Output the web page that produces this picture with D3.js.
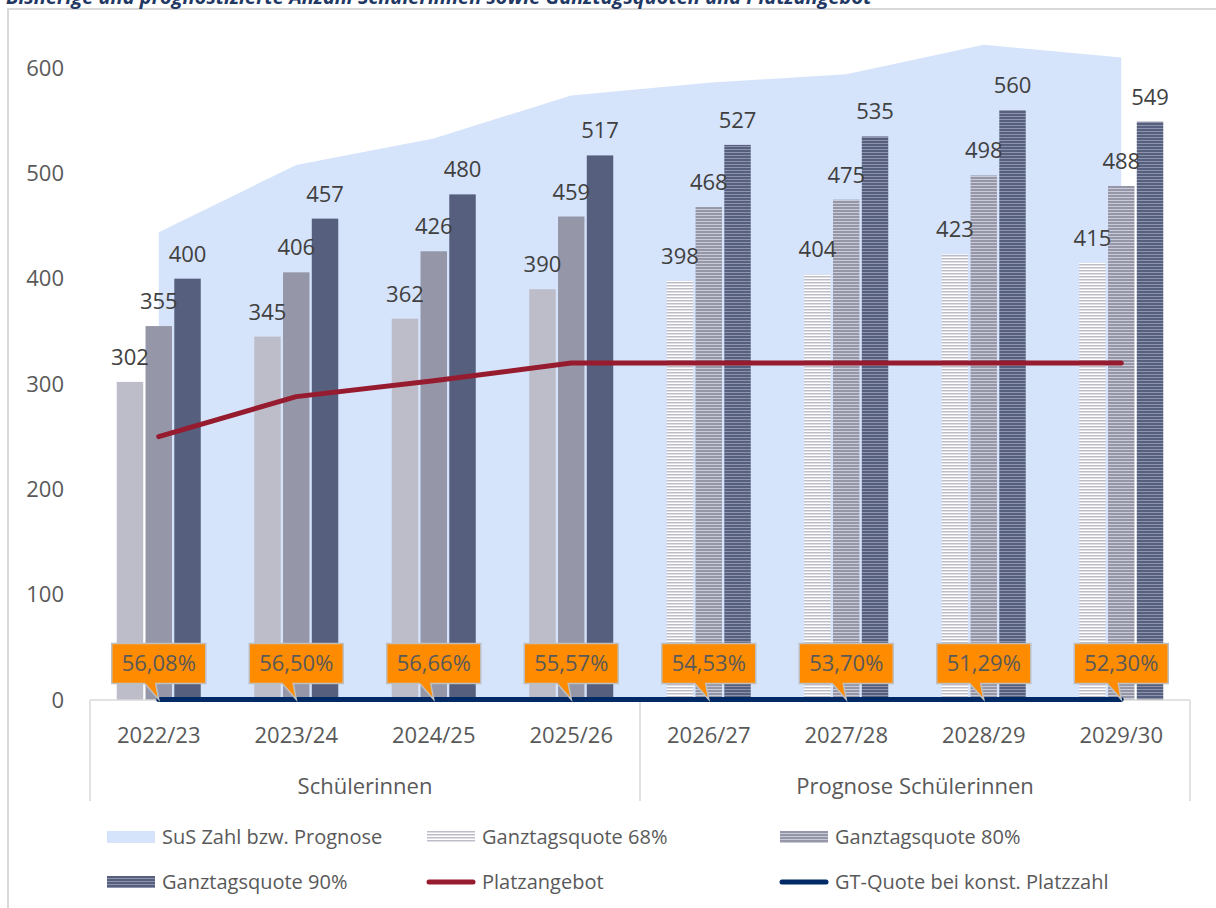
<!DOCTYPE html>
<html>
<head>
<meta charset="utf-8">
<script src="https://cdn.jsdelivr.net/npm/d3@7"></script>
<style>
  html, body { margin: 0; padding: 0; background: #fff; }
  svg { display: block; font-family: "Open Sans", "Noto Sans", sans-serif; }
</style>
</head>
<body>
<svg id="chart" width="1216" height="908"></svg>
<script>
// School years and their grouping on the two-level category axis
const years = ["2022/23", "2023/24", "2024/25", "2025/26", "2026/27", "2027/28", "2028/29", "2029/30"];
const groups = [
  { label: "Schülerinnen", from: 0, to: 3 },
  { label: "Prognose Schülerinnen", from: 4, to: 7 }
];
const forecastFrom = 4;

// Pupil numbers (actual, then forecast)
const susTotal = [444, 508, 533, 574, 586, 594, 622, 610];
// Full-day demand at 68 %, 80 % and 90 % participation
const quote68 = [302, 345, 362, 390, 398, 404, 423, 415];
const quote80 = [355, 406, 426, 459, 468, 475, 498, 488];
const quote90 = [400, 457, 480, 517, 527, 535, 560, 549];
// Available places
const platzangebot = [250, 288, 303, 320, 320, 320, 320, 320];
// Full-day rate with constant number of places
const gtQuote = [0.5608, 0.5650, 0.5666, 0.5557, 0.5453, 0.5370, 0.5129, 0.5230];

const yTicks = [0, 100, 200, 300, 400, 500, 600];

const svg = d3.select("#chart");
const fmtPct = v => (v * 100).toFixed(2).replace(".", ",") + "%";

// Frame and heading
svg.append("rect")
  .attr("x", 8).attr("y", 9).attr("width", 1230).attr("height", 920)
  .attr("fill", "none").attr("stroke", "#d9d9d9").attr("stroke-width", 2);
svg.append("text")
  .attr("x", 6).attr("y", 4)
  .attr("font-size", 20).attr("font-weight", "bold").attr("font-style", "italic")
  .attr("fill", "#1f3864")
  .text("Bisherige und prognostizierte Anzahl Schülerinnen sowie Ganztagsquoten und Platzangebot");

// Scales
const x0 = d3.scaleBand().domain(years).range([90, 1190]).paddingInner(0).paddingOuter(0);
const seriesKeys = ["q68", "q80", "q90"];
const groupW = 84;
const x1 = d3.scaleBand().domain(seriesKeys).range([0, groupW]).paddingInner(0.08);
const y = d3.scaleLinear().domain([0, 600]).range([700, 68]);
const cx = d => x0(d) + x0.bandwidth() / 2;

// Stripe patterns for forecast bars
const defs = svg.append("defs");
function stripe(id, base, line, h, lh) {
  const p = defs.append("pattern").attr("id", id)
    .attr("patternUnits", "userSpaceOnUse").attr("width", 8).attr("height", h);
  p.append("rect").attr("width", 8).attr("height", h).attr("fill", base);
  p.append("rect").attr("y", 0).attr("width", 8).attr("height", lh).attr("fill", line);
}
stripe("st68", "#ffffff", "#bdbdc9", 3, 1.5);
stripe("st80", "#c9cad5", "#9597a8", 3, 2);
stripe("st90", "#8d93ab", "#565f7d", 3, 2);

const seriesDefs = [
  { key: "q68", values: quote68, solid: "#bdbdc9", pattern: "url(#st68)" },
  { key: "q80", values: quote80, solid: "#9597a8", pattern: "url(#st80)" },
  { key: "q90", values: quote90, solid: "#565f7d", pattern: "url(#st90)" }
];

// Area: pupil numbers
const area = d3.area()
  .x((d, i) => cx(years[i]))
  .y0(y(0)).y1(d => y(d));
svg.append("path").datum(susTotal)
  .attr("d", area).attr("fill", "#d5e3fb");

// Bars
const barOffset = (x0.bandwidth() - groupW) / 2;
seriesDefs.forEach(s => {
  svg.append("g").selectAll("rect")
    .data(s.values)
    .join("rect")
    .attr("x", (d, i) => x0(years[i]) + barOffset + x1(s.key))
    .attr("y", d => y(d))
    .attr("width", x1.bandwidth())
    .attr("height", d => y(0) - y(d))
    .attr("fill", (d, i) => i >= forecastFrom ? s.pattern : s.solid);
});

// Bar value labels
seriesDefs.forEach(s => {
  svg.append("g").selectAll("text")
    .data(s.values)
    .join("text")
    .attr("x", (d, i) => x0(years[i]) + barOffset + x1(s.key) + x1.bandwidth() / 2)
    .attr("y", d => y(d) - 17)
    .attr("text-anchor", "middle")
    .attr("font-size", 22)
    .attr("fill", "#404040")
    .text(d => d);
});

// Axis lines
const axisColor = "#d9d9d9";
svg.append("line").attr("x1", 90).attr("x2", 1190).attr("y1", y(0)).attr("y2", y(0))
  .attr("stroke", axisColor).attr("stroke-width", 1.5);
[90, x0(years[forecastFrom]), 1190].forEach(xv => {
  svg.append("line").attr("x1", xv).attr("x2", xv).attr("y1", y(0)).attr("y2", 801)
    .attr("stroke", axisColor).attr("stroke-width", 1.5);
});

// Y axis labels
svg.append("g").selectAll("text").data(yTicks).join("text")
  .attr("x", 64).attr("y", d => y(d))
  .attr("dy", "0.35em").attr("text-anchor", "end")
  .attr("font-size", 22).attr("fill", "#595959")
  .text(d => d);

// Category labels
svg.append("g").selectAll("text").data(years).join("text")
  .attr("x", d => cx(d)).attr("y", 735)
  .attr("dy", "0.35em").attr("text-anchor", "middle")
  .attr("font-size", 22).attr("fill", "#595959")
  .text(d => d);

// Group labels
svg.append("g").selectAll("text").data(groups).join("text")
  .attr("x", g => (x0(years[g.from]) + x0(years[g.to]) + x0.bandwidth()) / 2)
  .attr("y", 786)
  .attr("dy", "0.35em").attr("text-anchor", "middle")
  .attr("font-size", 22).attr("fill", "#595959")
  .text(g => g.label);

// Line: places
const line = d3.line().x((d, i) => cx(years[i])).y(d => y(d));
svg.append("path").datum(platzangebot)
  .attr("d", line).attr("fill", "none")
  .attr("stroke", "#971b2f").attr("stroke-width", 5)
  .attr("stroke-linecap", "round").attr("stroke-linejoin", "round");

// Line: full-day rate (plotted on the same axis, sits on the baseline)
svg.append("path").datum(gtQuote)
  .attr("d", line).attr("fill", "none")
  .attr("stroke", "#002a66").attr("stroke-width", 5)
  .attr("stroke-linecap", "round").attr("stroke-linejoin", "round");

// Callouts with the full-day rate
const cw = 94, ch = 40;
const callouts = svg.append("g").selectAll("g").data(gtQuote).join("g")
  .attr("transform", (d, i) => `translate(${cx(years[i])},${y(d)})`);
callouts.append("path")
  .attr("d", () => {
    const top = -56, bot = top + ch, l = -cw / 2, r = cw / 2;
    return `M${l},${top} H${r} V${bot} H-3 L0,0 L-14,${bot} H${l} Z`;
  })
  .attr("fill", "#ff8c00").attr("stroke", "#bfbfbf").attr("stroke-width", 1.5)
  .attr("stroke-linejoin", "miter");
callouts.append("text")
  .attr("x", 0).attr("y", -36)
  .attr("dy", "0.35em").attr("text-anchor", "middle")
  .attr("font-size", 22).attr("fill", "#595959")
  .text(d => fmtPct(d));

// Legend
const legendItems = [
  { label: "SuS Zahl bzw. Prognose", type: "area", fill: "#d5e3fb" },
  { label: "Ganztagsquote 68%", type: "rect", fill: "url(#st68)" },
  { label: "Ganztagsquote 80%", type: "rect", fill: "url(#st80)" },
  { label: "Ganztagsquote 90%", type: "rect", fill: "url(#st90)" },
  { label: "Platzangebot", type: "line", stroke: "#971b2f" },
  { label: "GT-Quote bei konst. Platzzahl", type: "line", stroke: "#002a66" }
];
const legCols = [107, 427, 780];
const legRows = [837, 882];
const leg = svg.append("g").selectAll("g").data(legendItems).join("g")
  .attr("transform", (d, i) => `translate(${legCols[i % 3]},${legRows[Math.floor(i / 3)]})`);
leg.each(function(d) {
  const g = d3.select(this);
  if (d.type === "line") {
    g.append("line").attr("x1", 2).attr("x2", 46).attr("y1", 0).attr("y2", 0)
      .attr("stroke", d.stroke).attr("stroke-width", 5).attr("stroke-linecap", "round");
  } else {
    g.append("rect").attr("x", 0).attr("y", -6).attr("width", 48).attr("height", 12)
      .attr("fill", d.fill);
  }
  g.append("text").attr("x", 55).attr("y", 0).attr("dy", "0.35em")
    .attr("font-size", 20).attr("fill", "#595959").text(d.label);
});
</script>
</body>
</html>
